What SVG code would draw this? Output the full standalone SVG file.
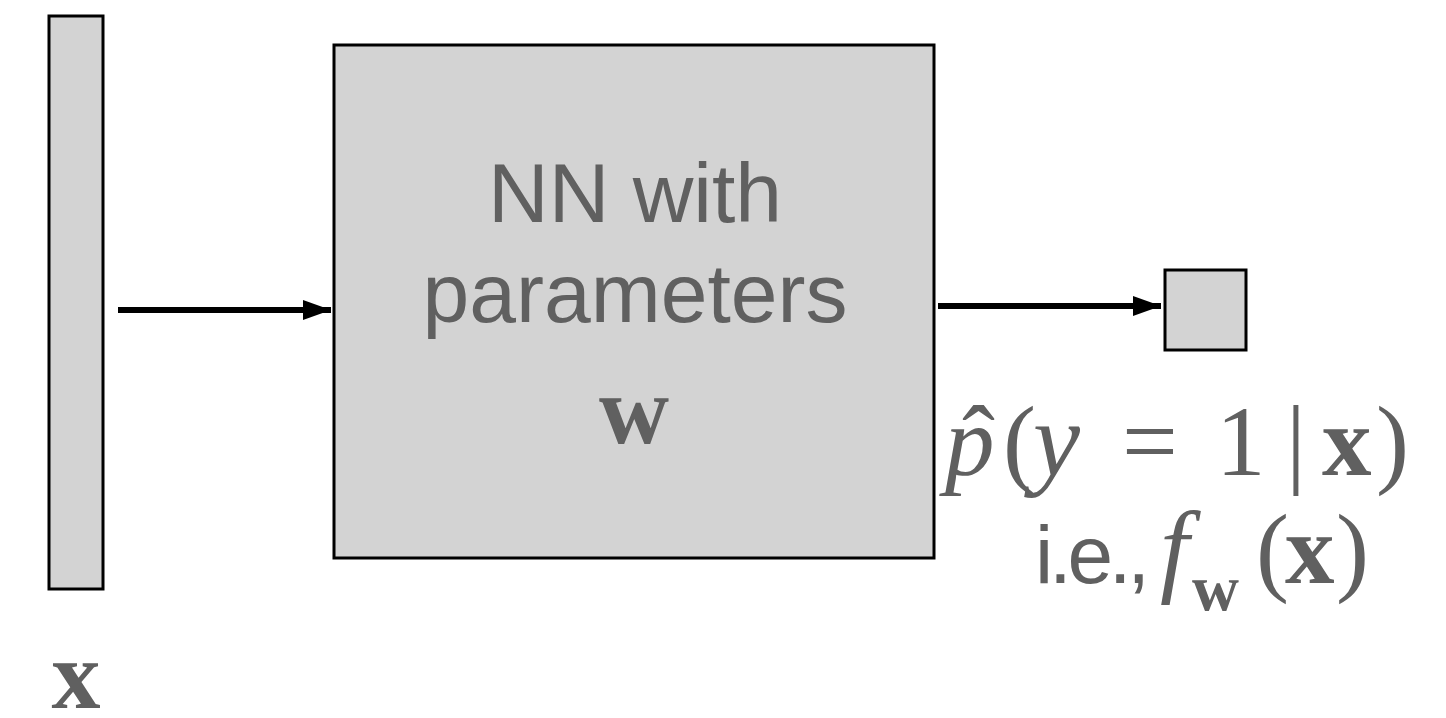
<svg xmlns="http://www.w3.org/2000/svg" width="1446" height="718" viewBox="0 0 1446 718">
<style>
.box{fill:#d3d3d3;stroke:#000;stroke-width:3}
.sans{font-family:"Liberation Sans",Arial,sans-serif;fill:#606060}
.serif{font-family:"Liberation Serif","Times New Roman",Times,serif;fill:#606060}
.conn{stroke:#000;stroke-width:6;fill:none}
</style>
<defs>
<marker id="ah" viewBox="0 0 28 22" refX="28" refY="11" markerWidth="28" markerHeight="22" markerUnits="userSpaceOnUse" orient="auto">
<path d="M0,1 L28,11 L0,21 Z" fill="#000"/>
</marker>
</defs>
<rect width="1446" height="718" fill="#fff"/>
<g id="input">
<rect class="box" x="49" y="16" width="54" height="573"/>
<text class="serif" x="76" y="708" font-size="98" font-weight="bold" text-anchor="middle">x</text>
</g>
<g id="network">
<rect class="box" x="334" y="45" width="600" height="513"/>
<text class="sans" x="635" y="222" font-size="84" text-anchor="middle">NN with</text>
<text class="sans" x="635" y="322" font-size="84" text-anchor="middle">parameters</text>
<text class="serif" x="634" y="443" font-size="97" font-weight="bold" text-anchor="middle">w</text>
</g>
<g id="output">
<rect class="box" x="1165" y="270" width="81" height="80"/>
<g class="serif" font-size="99">
<text x="945" y="475" font-style="italic">p</text>
<text x="962" y="475">ˆ</text>
<text x="1003" y="475">(</text>
<text x="1033" y="475" font-style="italic" font-size="106">y</text>
<text x="1122" y="475">=</text>
<text x="1216" y="475">1</text>
<text x="1286" y="475">|</text>
<text x="1322" y="475" font-weight="bold">x</text>
<text x="1376" y="475">)</text>
</g>
<text class="sans" x="1035" y="583" font-size="82" textLength="115" lengthAdjust="spacing">i.e.,</text>
<g class="serif">
<text x="1160" y="583" font-size="104" font-style="italic">f</text>
<text x="1192" y="610" font-size="65" font-weight="bold">w</text>
<text x="1256" y="583" font-size="99">(</text>
<text x="1285" y="583" font-size="99" font-weight="bold">x</text>
<text x="1336" y="583" font-size="99">)</text>
</g>
</g>
<g id="connectors">
<line class="conn" x1="118" y1="310" x2="331" y2="310" marker-end="url(#ah)"/>
<line class="conn" x1="938" y1="306" x2="1161" y2="306" marker-end="url(#ah)"/>
</g>
</svg>
